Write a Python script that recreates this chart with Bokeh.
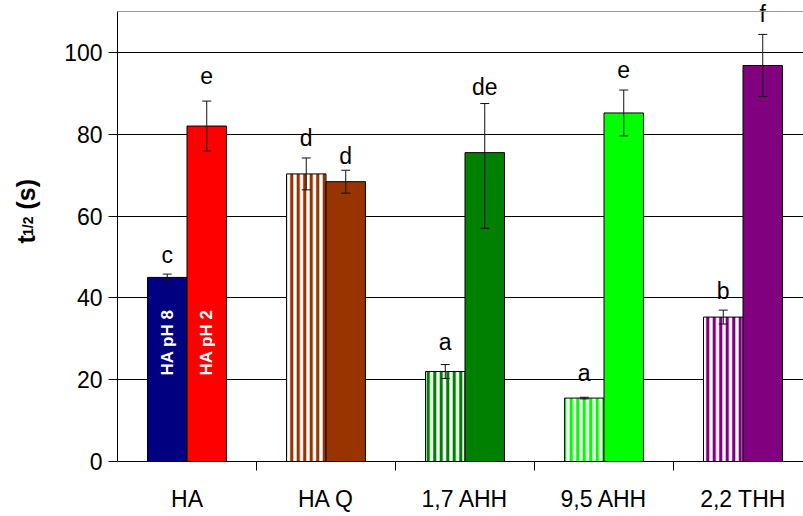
import math

from bokeh.plotting import figure
from bokeh.layouts import row
from bokeh.models import (ColumnDataSource, Range1d, FixedTicker, Whisker,
                          TeeHead, Span)
from bokeh.embed import file_html
from bokeh.resources import INLINE
from bokeh.core.properties import value

# ---- data -------------------------------------------------------------
categories = ["HA", "HA Q", "1,7 AHH", "9,5 AHH", "2,2 THH"]

first_values = [45.0, 70.3, 22.0, 15.5, 35.3]
first_err_up = [0.8, 3.9, 1.7, 0.2, 1.7]
first_err_down = [0.8, 3.9, 1.7, 0.2, 1.7]
first_letters = ["c", "d", "a", "a", "b"]

second_values = [82.0, 68.4, 75.5, 85.2, 96.8]
second_err_up = [6.1, 2.8, 12.0, 5.6, 7.6]
second_err_down = [6.1, 2.8, 18.5, 5.6, 7.6]
second_letters = ["e", "d", "de", "e", "f"]

inner_labels = ["HA pH 8", "HA pH 2"]
y_ticks = [0, 20, 40, 60, 80, 100]
y_axis_top = 110

# ---- styling ----------------------------------------------------------
FONT = "Liberation Sans"
first_colors = ["#000080", "#993300", "#008000", "#00FF00", "#800080"]
first_hatch = [" ", "|", "|", "|", "|"]
second_colors = ["#FF0000", "#993300", "#008000", "#00FF00", "#800080"]
# pixel gap between the top of each error bar and its letter
first_gap_px = [19, 20, 23, 24, 19]
second_gap_px = [26, 14, 17, 21, 20]

W, H = 803, 516
TITLE_W = 60            # strip holding the rotated y-axis title
LEFT, BOTTOM = 117, 55
FRAME_W = W - LEFT
FRAME_H = H - BOTTOM
CAT_PX = 139.0          # pixel width of one category slot
PX_PER_Y = 450 / y_axis_top
PX_TO_Y = 1 / PX_PER_Y
Y_MAX = FRAME_H / PX_PER_Y   # a little headroom above the axis for letters
BAR_W = 0.284
OFF = BAR_W / 2

x_end = FRAME_W / CAT_PX

p = figure(width=W - TITLE_W, height=H, output_backend="svg",
           toolbar_location=None,
           x_range=Range1d(0, x_end), y_range=Range1d(0, Y_MAX),
           min_border_left=LEFT - TITLE_W, min_border_top=0,
           min_border_bottom=BOTTOM, min_border_right=0)
p.outline_line_color = None
p.background_fill_color = "white"
p.border_fill_color = "white"

centers = [i + 0.5 for i in range(len(categories))]
x1 = [c - OFF for c in centers]
x2 = [c + OFF for c in centers]


def series_source(xs, vals, up, down, letters, gaps, **extra):
    upper = [v + e for v, e in zip(vals, up)]
    return ColumnDataSource(dict(
        x=xs, top=vals, upper=upper,
        lower=[v - e for v, e in zip(vals, down)],
        letter=letters,
        letter_y=[u + g * PX_TO_Y for u, g in zip(upper, gaps)],
        **extra))


src1 = series_source(x1, first_values, first_err_up, first_err_down,
                     first_letters, first_gap_px,
                     color=first_colors, hatch=first_hatch,
                     fill=[c if h == " " else "white"
                           for c, h in zip(first_colors, first_hatch)])
src2 = series_source(x2, second_values, second_err_up, second_err_down,
                     second_letters, second_gap_px, color=second_colors)

# top border line of the plot area
p.add_layout(Span(location=y_axis_top, dimension="width",
                  line_color="#9a9a9a", line_width=1))

p.vbar(x="x", top="top", width=BAR_W, bottom=0, source=src1,
       fill_color="fill", line_color="black", line_width=1,
       hatch_pattern="hatch", hatch_color="color", hatch_scale=6.5,
       hatch_weight=3.2)
p.vbar(x="x", top="top", width=BAR_W, bottom=0, source=src2,
       fill_color="color", line_color="black", line_width=1)

for src in (src1, src2):
    p.add_layout(Whisker(base="x", upper="upper", lower="lower", source=src,
                         level="annotation",
                         line_color="#111111", line_width=1,
                         upper_head=TeeHead(size=9, line_color="#111111"),
                         lower_head=TeeHead(size=9, line_color="#111111")))
    p.text(x="x", y="letter_y", text="letter", source=src,
           text_align="center", text_baseline="alphabetic",
           text_font=value(FONT), text_font_size="23px", text_color="black")

# series names written inside the HA bars
inner_y = (H - BOTTOM - 342) * PX_TO_Y
p.text(x=[x1[0], x2[0]], y=[inner_y] * 2, text=inner_labels,
       angle=math.pi / 2, text_align="center", text_baseline="middle",
       text_color="white", text_font=value(FONT), text_font_style="bold",
       text_font_size="17px")

# ---- axes -------------------------------------------------------------
p.xgrid.visible = False
p.ygrid.ticker = FixedTicker(ticks=y_ticks[1:])
p.ygrid.grid_line_color = "black"
p.ygrid.grid_line_width = 1

xa = p.xaxis[0]
xa.ticker = FixedTicker(ticks=centers, minor_ticks=[1, 2, 3, 4])
xa.major_label_overrides = {c: name for c, name in zip(centers, categories)}
xa.major_tick_out = 0
xa.major_tick_in = 0
xa.minor_tick_out = 9
xa.minor_tick_in = 0
xa.minor_tick_line_color = "black"
xa.axis_line_color = "black"
xa.major_label_standoff = 15
xa.major_label_text_font = FONT
xa.major_label_text_font_size = "23px"
xa.major_label_text_color = "black"

ya = p.yaxis[0]
ya.ticker = FixedTicker(ticks=y_ticks)
ya.bounds = (0, y_axis_top)
ya.minor_tick_line_color = None
ya.major_tick_out = 9
ya.major_tick_in = 0
ya.major_tick_line_color = "black"
ya.axis_line_color = "black"
ya.major_label_standoff = 6
ya.major_label_text_font = FONT
ya.major_label_text_font_size = "23px"
ya.major_label_text_color = "black"

# ---- y-axis title strip: t with subscript 1/2, then (s) ------------------
t = figure(width=TITLE_W, height=H, output_backend="svg",
           toolbar_location=None, x_axis_type=None, y_axis_type=None,
           x_range=Range1d(0, TITLE_W), y_range=Range1d(0, H),
           min_border=0)
t.outline_line_color = None
t.xgrid.visible = False
t.ygrid.visible = False
t.border_fill_color = "white"

title_parts = [("t", 25, 272, "25px"), ("1/2", 27, 263.5, "14px"),
               ("(s)", 25, 234, "25px")]
for txt, px, py, size in title_parts:
    t.text(x=[px], y=[H - py], text=[txt], angle=math.pi / 2,
           text_align="left", text_baseline="alphabetic",
           text_font=value(FONT), text_font_style="bold",
           text_font_size=size, text_color="black")

layout = row(t, p, spacing=0)
open("out.html", "w").write(file_html(layout, INLINE))
